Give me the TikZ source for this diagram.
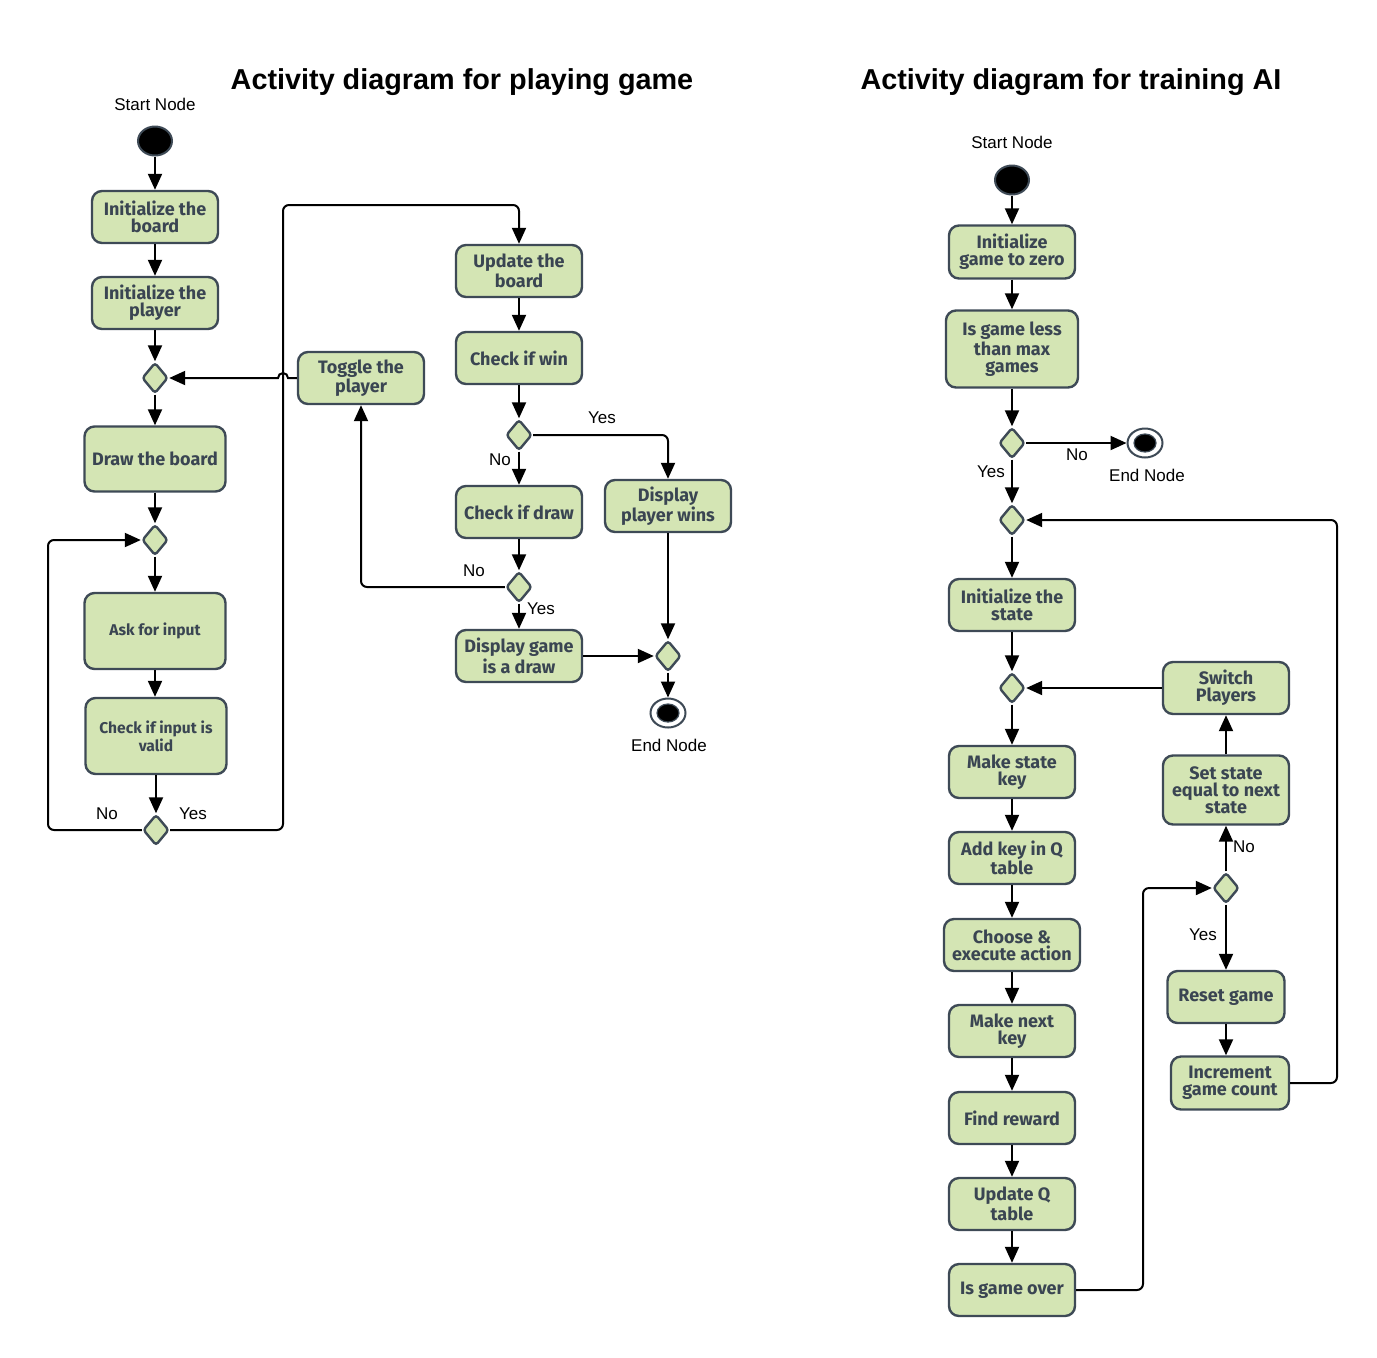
\documentclass[tikz,border=0pt]{standalone}
\usepackage{fontspec}
\setmainfont{Liberation Sans}
\newfontfamily\boxfont{Fira Sans}
\usetikzlibrary{arrows.meta}
\usetikzlibrary{shapes.geometric}
\definecolor{boxfill}{HTML}{D4E5B4}
\definecolor{edgecol}{HTML}{3E4A56}
\definecolor{textcol}{HTML}{3A4552}

\begin{document}
\begin{tikzpicture}[x=0.5pt, y=-0.5pt,
  act/.style={draw=edgecol, fill=boxfill, line width=1.2pt, rounded corners=5pt, minimum width=63pt, minimum height=26pt, inner sep=1pt, align=center, text=textcol, font=\boxfont\bfseries\fontsize{9}{8.6}\selectfont},
  smallact/.style={act, font=\boxfont\bfseries\fontsize{7.8}{7.6}\selectfont},
  decide/.style={diamond, draw=edgecol, fill=boxfill, line width=1.2pt, rounded corners=1.5pt, minimum width=13pt, minimum height=15.5pt, inner sep=0pt},
  startnode/.style={ellipse, draw=edgecol, fill=black, line width=1pt, minimum width=17pt, minimum height=14.5pt, inner sep=0pt},
  endnode/.style={ellipse, draw=edgecol, fill=white, line width=1pt, minimum width=17.5pt, minimum height=14.5pt, inner sep=0pt, path picture={\filldraw[fill=black, draw=edgecol, line width=.6pt] (path picture bounding box.center) ellipse (5.5pt and 4.5pt);}},
  flow/.style={black, line width=1pt, rounded corners=3pt, -{Triangle[length=8pt,width=7pt]}},
  lbl/.style={font=\fontsize{8.5}{10}\selectfont, inner sep=1pt},
  heading/.style={font=\bfseries\fontsize{14.4}{16}\selectfont}]
\useasboundingbox (0,0) rectangle (1377,1357);

\node[heading] (titleL) at (462,82) {Activity diagram for playing game};
\node[heading] (titleR) at (1071,82) {Activity diagram for training AI};

% playing game
\node[lbl] (startLlbl) at (155,104) {Start Node};
\node[startnode] (startL) at (155,141) {};
\node[act] (initboard) at (155,217) {Initialize the\\board};
\node[act] (initplayer) at (155,303) {Initialize the\\player};
\node[decide] (mergeturn) at (155,378) {};
\node[act, minimum width=70.5pt, minimum height=32.5pt] (drawboard) at (155,459) {Draw the board};
\node[decide] (mergeinput) at (155,540) {};
\node[smallact, minimum width=70.5pt, minimum height=38pt] (askinput) at (155,631) {Ask for input};
\node[smallact, minimum width=70.5pt, minimum height=38pt] (checkvalid) at (156,736) {Check if input is\\valid};
\node[decide] (isvalid) at (156,830) {};
\node[act] (toggle) at (361,378) {Toggle the\\player};
\node[act] (updboard) at (519,271) {Update the\\board};
\node[act] (checkwin) at (519,358) {Check if win};
\node[decide] (iswin) at (519,435) {};
\node[act] (checkdraw) at (519,512) {Check if draw};
\node[act] (showwin) at (668,506) {Display\\player wins};
\node[decide] (isdraw) at (519,587) {};
\node[act] (showdraw) at (519,656) {Display game\\is a draw};
\node[decide] (mergeend) at (668,656) {};
\node[endnode] (endL) at (668,713) {};
\node[lbl] (endLlbl) at (669,745) {End Node};

\foreach \a/\b in {startL/initboard, initboard/initplayer, initplayer/mergeturn, mergeturn/drawboard, drawboard/mergeinput, mergeinput/askinput, askinput/checkvalid, checkvalid/isvalid, updboard/checkwin, checkwin/iswin, iswin/checkdraw, checkdraw/isdraw, isdraw/showdraw, showwin/mergeend, mergeend/endL}
  \draw[flow] (\a) -- (\a |- \b.north);

\draw[flow] (isvalid.west) -- (48,830) |- (mergeinput.west);
\draw[flow] (isvalid.east) -| (283,205) -| (updboard.north);
\draw[flow, sharp corners] (toggle.west) -- (288,378) arc[start angle=0, end angle=-180, radius=5] -- (mergeturn.east);
\draw[flow] (isdraw.west) -| (toggle.south);
\draw[flow] (iswin.east) -| (showwin.north);
\draw[flow] (showdraw.east) -- (mergeend.west);

\node[lbl] (novalid) at (107,814) {No};
\node[lbl] (yesvalid) at (193,814) {Yes};
\node[lbl] (yeswin) at (602,418) {Yes};
\node[lbl] (nowin) at (500,460) {No};
\node[lbl] (nodraw) at (474,571) {No};
\node[lbl] (yesdraw) at (541,609) {Yes};

% training AI
\node[lbl] (startRlbl) at (1012,142) {Start Node};
\node[startnode] (startR) at (1012,180) {};
\node[act, minimum height=26.5pt] (initgame) at (1012,252) {Initialize\\game to zero};
\node[act, minimum width=66pt, minimum height=38.5pt] (lessmax) at (1012,349) {Is game less\\than max\\games};
\node[decide] (ismax) at (1012,443) {};
\node[endnode] (endR) at (1145,443) {};
\node[lbl] (endRlbl) at (1147,475) {End Node};
\node[decide] (mergegame) at (1012,520) {};
\node[act] (initstate) at (1012,605) {Initialize the\\state};
\node[decide] (mergemove) at (1012,688) {};
\node[act] (statekey) at (1012,772) {Make state\\key};
\node[act] (addkey) at (1012,858) {Add key in Q\\table};
\node[act, minimum width=68pt] (choose) at (1012,945) {Choose \&\\execute action};
\node[act] (nextkey) at (1012,1031) {Make next\\key};
\node[act] (reward) at (1012,1118) {Find reward};
\node[act] (updq) at (1012,1204) {Update Q\\table};
\node[act] (isover) at (1012,1290) {Is game over};
\node[act] (switchpl) at (1226,688) {Switch\\Players};
\node[act, minimum height=34.5pt] (setstate) at (1226,790) {Set state\\equal to next\\state};
\node[decide] (overdec) at (1226,888) {};
\node[act, minimum width=58.5pt] (reset) at (1226,997) {Reset game};
\node[act, minimum width=59pt, minimum height=26.5pt] (inccount) at (1230,1083) {Increment\\game count};

\foreach \a/\b in {startR/initgame, initgame/lessmax, lessmax/ismax, ismax/mergegame, mergegame/initstate, initstate/mergemove, mergemove/statekey, statekey/addkey, addkey/choose, choose/nextkey, nextkey/reward, reward/updq, updq/isover, overdec/reset, reset/inccount}
  \draw[flow] (\a) -- (\a |- \b.north);
\foreach \a/\b in {overdec/setstate, setstate/switchpl}
  \draw[flow] (\a) -- (\a |- \b.south);

\draw[flow] (ismax.east) -- (endR.west);
\draw[flow] (switchpl.west) -- (mergemove.east);
\draw[flow] (inccount.east) -- (1337,1083) |- (mergegame.east);
\draw[flow] (isover.east) -- (1143,1290) |- (overdec.west);

\node[lbl] (nomax) at (1077,455) {No};
\node[lbl] (yesmax) at (991,472) {Yes};
\node[lbl] (noover) at (1244,847) {No};
\node[lbl] (yesover) at (1203,935) {Yes};
\end{tikzpicture}
\end{document}
